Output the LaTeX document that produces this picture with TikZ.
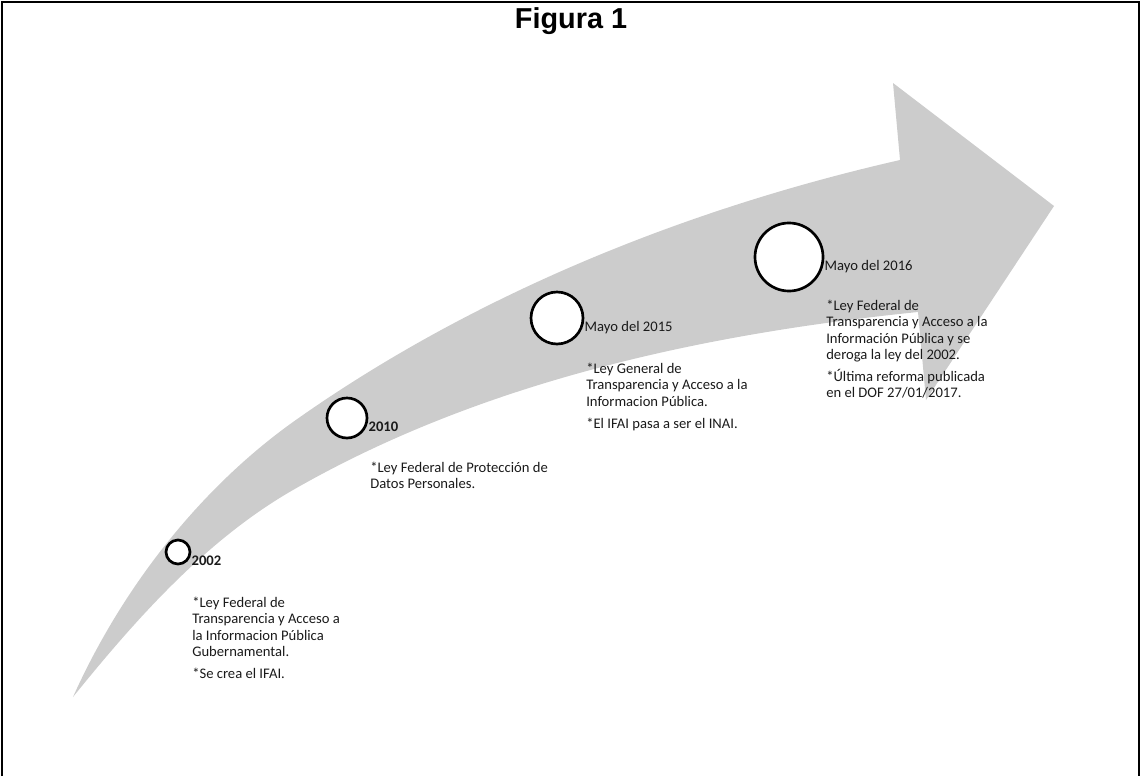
\documentclass[tikz,border=0pt]{standalone}
\usepackage{fontspec}
\setmainfont{Carlito}
\newfontfamily\titlefont{Liberation Sans}
\usetikzlibrary{positioning}
\definecolor{bandgray}{HTML}{CCCCCC}
\definecolor{bodytext}{HTML}{1A1A1A}

\begin{document}
\begin{tikzpicture}[
    x=0.025cm, y=-0.025cm,
    milestone/.style={circle, draw=black, line width=1.9pt, fill=white, inner sep=0pt, minimum size=#1},
    yearlbl/.style={inner sep=0pt, anchor=west, font=\fontsize{10.4}{12}\selectfont, text=bodytext},
    notes/.style={anchor=north west, inner sep=0pt, align=left, text=bodytext,
                  font=\fontsize{10.4}{11.6}\selectfont}
]
\useasboundingbox (0,0) rectangle (1141,776);

% frame
\draw[line width=2pt] (2,776) -- (2,2) -- (1139,2) -- (1139,776);

\node[font=\titlefont\bfseries\fontsize{20.5}{24}\selectfont] (title) at (571,21) {Figura 1};

% curved arrow
\fill[bandgray] (73,697) .. controls (121,590) and (198,490) .. (293,422)
    .. controls (472,295) and (685,209) .. (900,160)
    -- (893,83) -- (1054,206) -- (926,400) -- (918,312)
    .. controls (702,334) and (481,382) .. (293,490)
    .. controls (206,540) and (136,619) .. (73,697) -- cycle;

% milestones
\node[milestone=24pt*0.7113] (c02) at (178,552) {};
\node[milestone=40pt*0.7113] (c10) at (347,418) {};
\node[milestone=52pt*0.7113] (c15) at (557,318) {};
\node[milestone=68pt*0.7113] (c16) at (789,257) {};

\node[yearlbl, font=\bfseries\fontsize{10.4}{12}\selectfont, right=0pt of c02, yshift=-6.5pt] (y02) {2002};
\node[yearlbl, font=\bfseries\fontsize{10.4}{12}\selectfont, right=0pt of c10, yshift=-6.5pt] (y10) {2010};
\node[yearlbl, right=0pt of c15, yshift=-7pt] (y15) {Mayo del 2015};
\node[yearlbl, right=0pt of c16, yshift=-7pt] (y16) {Mayo del 2016};

\node[notes] (t02) at (192,597) {*Ley Federal de\\Transparencia y Acceso a\\la Informacion Pública\\Gubernamental.\\[4pt]*Se crea el IFAI.};
\node[notes] (t10) at (370,462) {*Ley Federal de Protección de\\Datos Personales.};
\node[notes] (t15) at (586,363) {*Ley General de\\Transparencia y Acceso a la\\Informacion Pública.\\[4pt]*El IFAI pasa a ser el INAI.};
\node[notes] (t16) at (826,300) {*Ley Federal de\\Transparencia y Acceso a la\\Información Pública y se\\deroga la ley del 2002.\\[4pt]*Última reforma publicada\\en el DOF 27/01/2017.};
\end{tikzpicture}
\end{document}
